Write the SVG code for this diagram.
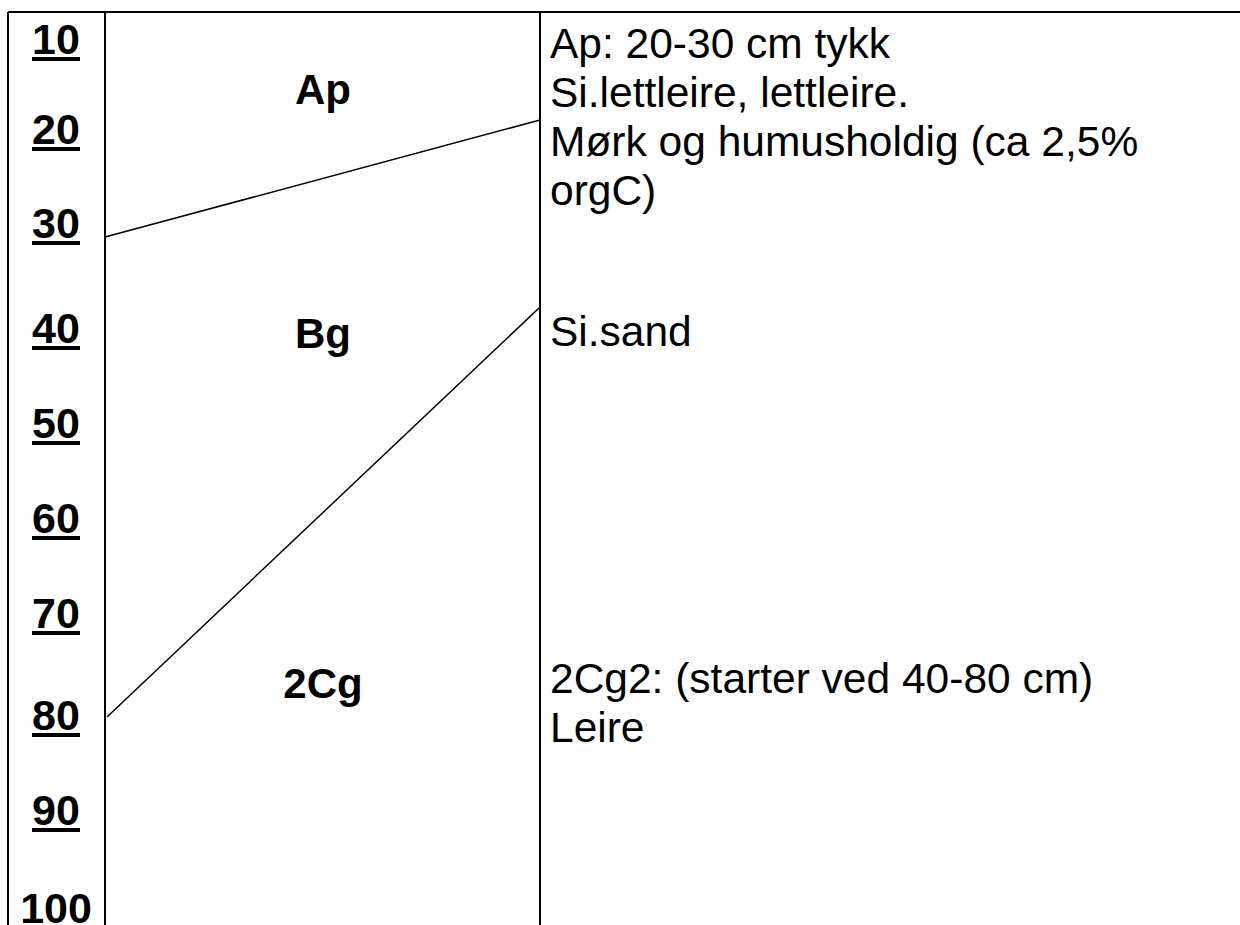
<svg xmlns="http://www.w3.org/2000/svg" width="1240" height="925" viewBox="0 0 1240 925">
<style>
.frame{stroke:#000;stroke-width:2;fill:none}
.bound{stroke:#000;stroke-width:1.5;fill:none}
.depth{font-family:"Liberation Sans",Arial,sans-serif;font-weight:bold;font-size:43px;text-anchor:middle;fill:#000}
.ul{fill:#000}
.hor{font-family:"Liberation Sans",Arial,sans-serif;font-weight:bold;font-size:42px;text-anchor:middle;fill:#000}
.desc{font-family:"Liberation Sans",Arial,sans-serif;font-size:42.5px;fill:#000}
</style>
<defs>
<rect id="ul" class="ul" x="32" y="0" width="48" height="4"/>
</defs>
<rect width="1240" height="925" fill="#fff"/>
<g id="frame">
<line class="frame" x1="8" y1="12" x2="1240" y2="12"/>
<line class="frame" x1="8" y1="12" x2="8" y2="925"/>
<line class="frame" x1="105" y1="12" x2="105" y2="925"/>
<line class="frame" x1="540" y1="12" x2="540" y2="925"/>
</g>
<g id="depth-scale">
<text class="depth" x="56" y="54">10</text><use href="#ul" y="57"/>
<text class="depth" x="56" y="144">20</text><use href="#ul" y="147"/>
<text class="depth" x="56" y="238">30</text><use href="#ul" y="241"/>
<text class="depth" x="56" y="343">40</text><use href="#ul" y="346"/>
<text class="depth" x="56" y="438">50</text><use href="#ul" y="441"/>
<text class="depth" x="56" y="533">60</text><use href="#ul" y="536"/>
<text class="depth" x="56" y="628">70</text><use href="#ul" y="631"/>
<text class="depth" x="56" y="730">80</text><use href="#ul" y="733"/>
<text class="depth" x="56" y="825">90</text><use href="#ul" y="828"/>
<text class="depth" x="56" y="923">100</text>
</g>
<g id="connectors">
<line class="bound" x1="105" y1="237" x2="540" y2="120"/>
<line class="bound" x1="107" y1="717" x2="539" y2="308"/>
</g>
<g id="horizon-Ap"><text class="hor" x="323" y="104">Ap</text></g>
<g id="horizon-Bg"><text class="hor" x="323" y="348">Bg</text></g>
<g id="horizon-2Cg"><text class="hor" x="323" y="698">2Cg</text></g>
<g id="desc-Ap">
<text class="desc" x="550" y="58">Ap: 20-30 cm tykk</text>
<text class="desc" x="550" y="107">Si.lettleire, lettleire.</text>
<text class="desc" x="550" y="156">Mørk og humusholdig (ca 2,5%</text>
<text class="desc" x="550" y="205">orgC)</text>
</g>
<g id="desc-Bg"><text class="desc" x="550" y="346">Si.sand</text></g>
<g id="desc-2Cg">
<text class="desc" x="550" y="693">2Cg2: (starter ved 40-80 cm)</text>
<text class="desc" x="550" y="742">Leire</text>
</g>
</svg>
